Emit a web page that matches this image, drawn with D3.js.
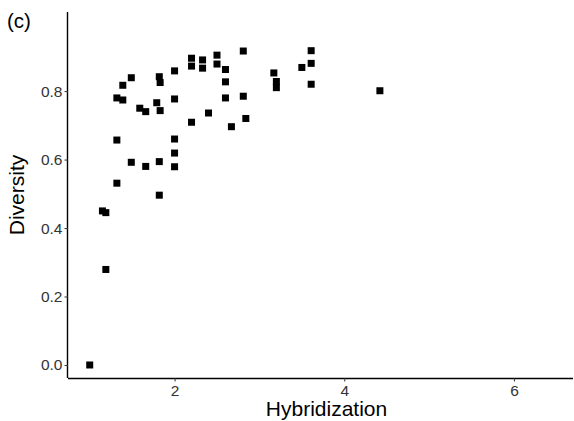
<!DOCTYPE html>
<html>
<head>
<meta charset="utf-8">
<script src="https://cdn.jsdelivr.net/npm/d3@7"></script>
<style>
  html, body { margin: 0; padding: 0; background: #fff; }
  svg { display: block; font-family: "Liberation Sans", Arial, Helvetica, sans-serif; }
</style>
</head>
<body>
<svg id="chart" width="574" height="421"></svg>
<script>
// Data
const hybridization = [
  1.00, 1.15, 1.19, 1.19, 1.32, 1.32, 1.32, 1.39, 1.39, 1.49,
  1.49, 1.59, 1.66, 1.66, 1.79, 1.82, 1.83, 1.83, 1.82, 1.82,
  2.00, 2.00, 2.00, 2.00, 2.00, 2.20, 2.20, 2.20, 2.33, 2.33,
  2.40, 2.50, 2.50, 2.60, 2.60, 2.60, 2.67, 2.81, 2.81, 2.84,
  3.17, 3.20, 3.20, 3.50, 3.61, 3.61, 3.61, 4.42
];
const diversity = [
  0.000, 0.450, 0.445, 0.279, 0.531, 0.657, 0.780, 0.774, 0.817, 0.839,
  0.592, 0.750, 0.740, 0.580, 0.766, 0.842, 0.825, 0.743, 0.594, 0.496,
  0.859, 0.777, 0.660, 0.619, 0.579, 0.896, 0.873, 0.709, 0.891, 0.867,
  0.736, 0.905, 0.879, 0.863, 0.827, 0.780, 0.696, 0.917, 0.785, 0.720,
  0.853, 0.828, 0.810, 0.869, 0.918, 0.881, 0.820, 0.801
];
const xTicks = [2, 4, 6];
const yTicks = [0.0, 0.2, 0.4, 0.6, 0.8];
const panelLabel = "(c)";
const xTitle = "Hybridization";
const yTitle = "Diversity";

const points = hybridization.map((h, i) => ({ x: h, y: diversity[i] }));

const svg = d3.select("#chart");
const margin = { left: 68, right: 1, top: 12, bottom: 43 };
const W = 574, H = 421;

const x = d3.scaleLinear().domain([0.744, 6.696]).range([margin.left, W - margin.right]);
const y = d3.scaleLinear().domain([-0.038, 1.031]).range([H - margin.bottom, margin.top]);

const textCol = "#333333";

// X axis
const xAxis = svg.append("g")
  .attr("transform", `translate(0,${H - margin.bottom})`)
  .call(d3.axisBottom(x).tickValues(xTicks).tickFormat(d3.format("d")).tickSize(3.5).tickPadding(3));
xAxis.select(".domain").attr("stroke", "#000").attr("stroke-width", 1.4)
  .attr("d", `M${margin.left},0.5H${W - margin.right}`);
xAxis.selectAll(".tick line").attr("stroke", "#333").attr("stroke-width", 1);
xAxis.selectAll(".tick text").attr("fill", textCol).attr("font-size", 15.5)
  .attr("font-family", "Liberation Sans, Arial, sans-serif");

// Y axis
const yAxis = svg.append("g")
  .attr("transform", `translate(${margin.left},0)`)
  .call(d3.axisLeft(y).tickValues(yTicks).tickFormat(d3.format(".1f")).tickSize(3.5).tickPadding(2));
yAxis.select(".domain").attr("stroke", "#000").attr("stroke-width", 1.4)
  .attr("d", `M-0.5,${margin.top}V${H - margin.bottom}`);
yAxis.selectAll(".tick line").attr("stroke", "#333").attr("stroke-width", 1);
yAxis.selectAll(".tick text").attr("fill", textCol).attr("font-size", 15.5)
  .attr("font-family", "Liberation Sans, Arial, sans-serif");

// Points (filled squares)
const s = 7;
svg.append("g").selectAll("rect").data(points).join("rect")
  .attr("x", d => x(d.x) - s / 2)
  .attr("y", d => y(d.y) - s / 2)
  .attr("width", s).attr("height", s)
  .attr("fill", "#000");

// Titles
svg.append("text").attr("x", (margin.left + W - margin.right) / 2 + 6).attr("y", 416)
  .attr("text-anchor", "middle").attr("font-size", 21).attr("fill", "#000").text(xTitle);
svg.append("text").attr("transform", `translate(24,195) rotate(-90)`)
  .attr("text-anchor", "middle").attr("font-size", 21).attr("fill", "#000").text(yTitle);
svg.append("text").attr("x", 7).attr("y", 28)
  .attr("font-size", 20.5).attr("fill", "#000").text(panelLabel);
</script>
</body>
</html>
